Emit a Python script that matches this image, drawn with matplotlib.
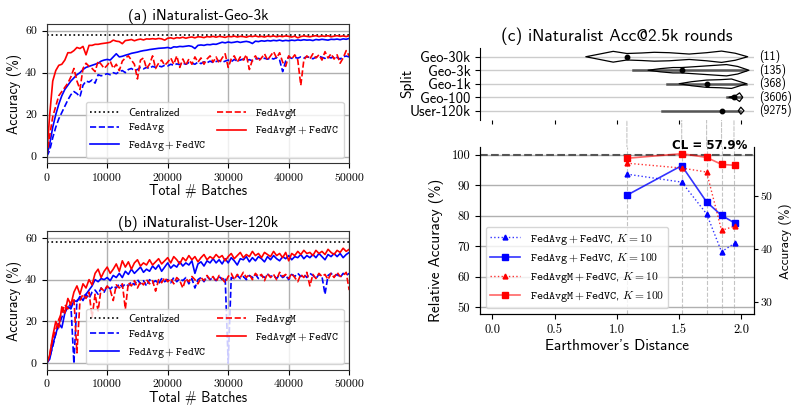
import numpy as np
import matplotlib
matplotlib.use("Agg")
import matplotlib.pyplot as plt
from matplotlib.patches import ConnectionPatch
from matplotlib.transforms import blended_transform_factory

plt.rcParams['font.family'] = ['cmss10', 'DejaVu Sans']
plt.rcParams['mathtext.fontset'] = 'cm'
plt.rcParams['axes.formatter.use_mathtext'] = True
plt.rcParams['axes.unicode_minus'] = False

# ---- data ----
CENTRALIZED = 57.9
batches = np.arange(0, 50001, 500)

# (a) iNaturalist-Geo-3k
geo3k_fedavg = [0, 3, 9, 14, 18, 21, 24, 27, 29.5, 31, 30, 28.5, 34, 36, 35.5, 36.5, 35, 39, 38.5, 39,
                39.5, 39, 40, 39.5, 40.5, 41, 40, 41.5, 42, 41, 41.5, 42.5, 41.8, 42.5, 42, 43, 42.5, 43.2, 42.8, 43.5,
                43.2, 44, 43.5, 44.2, 43.8, 44.5, 44, 44.8, 44.5, 44, 45, 44.3, 45.2, 44.7, 45.5, 44.8, 45.3, 45.8, 44.9, 45.5,
                46, 45.2, 46.3, 45.5, 46, 46.5, 45.8, 46.2, 45.6, 46.5, 46.8, 46.2, 46.9, 46.4, 47, 46.5, 47.2, 46, 40.5, 45.5,
                47.5, 46.8, 47.3, 46.9, 47.5, 47, 47.6, 47.2, 46.6, 47.4, 47.8, 47.3, 46.8, 47.5, 47, 47.7, 47.2, 46.5, 47.6, 47.9,
                47.5]
geo3k_fedavg_vc = [0, 6, 14, 20, 25, 29, 32, 34, 36, 37.5, 39, 40, 41.5, 42.5, 43, 43.5, 44, 44.5, 45.5, 46,
                   46.3, 46, 47.5, 49, 47.5, 47.8, 48.3, 48.7, 49.2, 49.5, 49.8, 50.2, 50.5, 50.7, 51, 51.2, 51.4, 51.6, 51.7, 51.8,
                   52, 51.6, 52.3, 52.2, 52.5, 52.4, 52.6, 52.8, 52.5, 51.5, 53, 53.2, 53, 53.4, 53.3, 53.6, 53.5, 54, 54.5, 54.2,
                   54.6, 54.3, 54.5, 54.8, 54.4, 54.7, 54.9, 54.6, 53.9, 55, 54.8, 55.2, 55, 55.3, 55.1, 55.4, 55.2, 55.5, 55.1, 55.4,
                   55.2, 55.5, 55.3, 55.6, 55.4, 55.7, 55.5, 55.6, 55.3, 55.8, 55.6, 55.9, 55.7, 55.5, 55.9, 55.8, 56, 55.7, 56.1, 55.9,
                   56.3]
geo3k_fedavgm = [0, 10, 19, 24, 29, 31, 33, 35, 38, 42, 36, 32, 42, 44.5, 43, 42, 40.5, 45.5, 44, 42,
                 43.5, 45.5, 42, 44, 41, 45.5, 47, 48, 46, 44, 37, 46, 47, 42, 44, 48, 42, 44.5, 46, 43.5,
                 45, 47, 44, 48, 42.5, 46.5, 43.5, 46.5, 44, 47.5, 45, 47, 44, 46.5, 48, 45, 47.5, 44.5, 47, 49,
                 42.5, 46.5, 48, 45, 47.5, 46, 48.5, 41.5, 46, 48, 45.5, 47, 49, 46, 48, 50, 47, 49.5, 45, 43,
                 48, 46.5, 48.5, 46, 34, 46, 48, 46.5, 49, 47, 48.5, 46, 50, 47, 49, 46.5, 48.5, 44.5, 47, 50.5,
                 48]
geo3k_fedavgm_vc = [0, 20, 36, 41, 43.5, 44, 46, 49.5, 49.5, 50.5, 52, 51.5, 52.5, 48.5, 53, 53, 53.5, 53.5, 53.8, 54,
                    54.2, 54.5, 55.5, 55, 54.8, 53.8, 55.3, 55.5, 55.8, 55.2, 55.7, 56, 55.6, 56.1, 56, 56.2, 56, 56.3, 56.1, 55.5,
                    56.4, 56.6, 56.2, 56.7, 56.5, 56.9, 56.4, 56.8, 57, 56.6, 57.1, 57, 56.7, 57.2, 57, 57.3, 56.9, 57.3, 57.1, 56.8,
                    57.3, 57.1, 57.4, 57, 57.3, 57.2, 56.9, 57.4, 57.2, 57.5, 57.1, 57.3, 57, 57.4, 57.2, 57.5, 57.1, 57.4, 57.2, 57.5,
                    57.3, 57, 57.4, 56.6, 57.2, 57.5, 57.3, 57.1, 57.4, 57.6, 57.2, 57.5, 57.3, 57.6, 57.1, 57.4, 57.6, 57.3, 57.5, 57.2,
                    57.6]

# (b) iNaturalist-User-120k
user120k_fedavg = [0, 3, 8, 14, 18, 22, 25, 27, 28, 0, 30, 31, 32, 33, 31, 34, 35, 33, 36, 34,
                   37, 35.5, 37, 36, 38, 36.5, 38, 37, 39, 37.5, 40, 38, 39.5, 37, 40, 38.5, 39.5, 38, 40.5, 39,
                   40, 38.5, 41, 39, 40.5, 39.5, 41, 38, 40.5, 36, 40, 41, 39, 41.5, 40, 41, 39.5, 41.5, 40, 41,
                   0, 41, 40.5, 42, 40.5, 41.5, 40, 42, 41, 42.5, 40.5, 42, 41, 42.5, 41.5, 42, 40.5, 42.5, 41, 42,
                   40, 42.5, 41.5, 43, 41.5, 42.5, 41, 43, 42, 40.5, 42.5, 41.5, 33, 42, 43, 41.5, 42.5, 41, 43, 42,
                   43]
user120k_fedavg_vc = [0, 2, 9, 14, 19, 17, 24, 27, 26, 30, 29.5, 32, 30, 33, 35, 37, 40, 39, 40.5, 40,
                      41, 39.5, 42, 41, 43, 41, 44, 42.5, 45, 43, 44.5, 46, 43.5, 45, 44, 46.5, 45, 47, 44, 46,
                      48, 45.5, 47, 46, 48.5, 46.5, 48, 47, 49, 43, 47.5, 48.5, 46.5, 49, 48, 50, 48, 49.5, 47.5, 50,
                      48, 50.5, 49, 47, 50, 49.5, 51, 48.5, 50.5, 49, 51, 50, 48.5, 51, 49.5, 51.5, 50, 49, 51, 50,
                      51.5, 49.5, 51, 50.5, 52, 50, 51.5, 50.5, 52, 50.5, 52.5, 51, 49.5, 52, 51, 52.5, 51, 52.5, 50.5, 52,
                      53]
user120k_fedavgm = [0, 4, 12, 16, 21, 24, 28, 26, 29, 31, 5, 30, 33, 31, 34, 22, 33, 25, 36, 34.5,
                    37, 35, 30, 37.5, 36, 38, 26, 38.5, 37, 39.5, 36, 39, 37.5, 40, 38, 39.5, 34.5, 40, 38.5, 41,
                    39, 40.5, 38, 41, 39.5, 36, 40.5, 39, 41.5, 40, 38, 41, 39.5, 42, 40, 41.5, 39, 42, 40.5, 38.5,
                    41.5, 43, 40, 42.5, 41, 43.5, 41, 42.5, 40, 43, 41.5, 42.5, 39.5, 43, 41, 42.5, 40, 43.5, 41.5, 42.5,
                    40.5, 43, 41, 39, 42.5, 41, 43.5, 37, 42.5, 40.5, 43, 41.5, 42.5, 40, 43, 41, 43.5, 41.5, 42, 43.5,
                    35]
user120k_fedavgm_vc = [0, 4, 13, 20, 17, 27, 24, 31, 28, 34, 37, 33, 38, 36, 40, 37.5, 43, 45, 41, 44,
                       46, 43, 45, 47.5, 44, 49, 46, 48.5, 45, 48, 49.5, 46.5, 48, 47, 49.5, 47, 48.5, 50, 47.5, 49,
                       50.5, 48, 51, 49.5, 47.5, 50.5, 49, 51.5, 49.5, 51, 48.5, 50.5, 52, 49.5, 51, 50, 52, 50.5, 51.5, 49,
                       51, 52.5, 50, 51.5, 53, 50.5, 52, 51, 53.5, 51.5, 52.5, 50.5, 53, 52, 51, 53.5, 51.5, 52.5, 50.5, 53,
                       49, 52.5, 51.5, 53.5, 52, 54, 52.5, 53, 51.5, 54, 52.5, 53.5, 52, 54.5, 53, 52, 54, 53, 55, 53.5,
                       54.5]

# (c) violins of client EMD per split
splits = ['Geo-30k', 'Geo-3k', 'Geo-1k', 'Geo-100', 'User-120k']
split_counts = [11, 135, 368, 3606, 9275]
split_median_emd = [1.08, 1.52, 1.72, 1.94, 1.84]
split_range_lo = [None, 1.13, 1.40, 1.88, 1.36]
split_range_hi = [None, 2.03, 2.04, 2.00, 1.985]
violin_emd = [
    [0.75, 0.85, 0.97, 1.08, 1.20, 1.30, 1.42, 1.58, 1.72, 1.84, 1.95, 2.05],
    [1.25, 1.35, 1.45, 1.52, 1.62, 1.75, 1.88, 1.97, 2.06],
    [1.50, 1.60, 1.72, 1.83, 1.92, 2.04],
    [1.90, 1.96, 1.985, 2.01],
    [1.975, 1.995, 2.02],
]
violin_half = [
    [0, 0.18, 0.40, 0.24, 0.28, 0.33, 0.30, 0.20, 0.30, 0.42, 0.26, 0],
    [0, 0.12, 0.20, 0.20, 0.26, 0.34, 0.42, 0.28, 0],
    [0, 0.15, 0.27, 0.30, 0.35, 0],
    [0, 0.15, 0.32, 0],
    [0, 0.26, 0],
]

# (c) relative accuracy vs EMD (points ordered by EMD)
emd = [1.08, 1.52, 1.72, 1.84, 1.95]
fedavg_vc_k10 = [93.6, 91.0, 80.6, 68.2, 71.1]
fedavg_vc_k100 = [86.7, 96.4, 84.5, 80.1, 77.5]
fedavgm_vc_k10 = [97.2, 95.6, 94.3, 75.2, 76.6]
fedavgm_vc_k100 = [98.8, 100.3, 99.1, 96.8, 96.5]

TT = r'$\mathtt{FedAvg}$'
TTM = r'$\mathtt{FedAvgM}$'
TTVC = r'$\mathtt{FedAvg}+\mathtt{FedVC}$'
TTMVC = r'$\mathtt{FedAvgM}+\mathtt{FedVC}$'

fig = plt.figure(figsize=(7.94, 4.05), dpi=100)
ax_a = fig.add_axes([0.0588, 0.5968, 0.381, 0.344])
ax_b = fig.add_axes([0.0588, 0.0864, 0.381, 0.343])
ax_v = fig.add_axes([0.6045, 0.7037, 0.345, 0.1785])
ax_c = fig.add_axes([0.6045, 0.2247, 0.345, 0.4116])


def curve_panel(ax, title, fa, fa_vc, fam, fam_vc):
    ax.axhline(CENTRALIZED, color='black', ls=':', lw=1.2, label='Centralized')
    ax.plot(batches, fa, color='blue', ls='--', lw=1.2, label=TT)
    ax.plot(batches, fa_vc, color='blue', lw=1.2, label=TTVC)
    ax.plot(batches, fam, color='red', ls='--', lw=1.2, label=TTM)
    ax.plot(batches, fam_vc, color='red', lw=1.2, label=TTMVC)
    ax.set_xlim(0, 50000)
    ax.set_ylim(-3.2, 63.2)
    ax.set_xticks([0, 10000, 20000, 30000, 40000, 50000])
    ax.set_xticklabels(['0', '10000', '20000', '30000', '40000', '50000'])
    ax.set_yticks([0, 20, 40, 60])
    ax.set_yticklabels(['0', '20', '40', '60'])
    ax.tick_params(labelsize=8.5, labelfontfamily='cmr10')
    ax.grid(True, color='#b0b0b0', lw=1)
    ax.set_axisbelow(True)
    for s in ax.spines.values():
        s.set_color('#333333')
    ax.set_title(title, fontsize=11, pad=3)
    ax.set_xlabel('Total # Batches', fontsize=10, labelpad=1)
    ax.set_ylabel('Accuracy (%)', fontsize=10, labelpad=2)
    ax.legend(loc='lower right', ncol=2, fontsize=8, columnspacing=1.0,
              handlelength=2.6, labelspacing=0.35)


curve_panel(ax_a, '(a) iNaturalist-Geo-3k', geo3k_fedavg, geo3k_fedavg_vc,
            geo3k_fedavgm, geo3k_fedavgm_vc)
curve_panel(ax_b, '(b) iNaturalist-User-120k', user120k_fedavg, user120k_fedavg_vc,
            user120k_fedavgm, user120k_fedavgm_vc)

# violins
trans = blended_transform_factory(ax_v.transAxes, ax_v.transData)
for i, name in enumerate(splits):
    ax_v.axhline(i, color='#cccccc', lw=1, zorder=0)
    if split_range_lo[i] is not None:
        ax_v.plot([split_range_lo[i], split_range_hi[i]], [i, i], color='#555555', lw=1.8, zorder=1)
    v = np.array(violin_half[i])
    ax_v.fill_between(violin_emd[i], i - v, i + v, facecolor='none', edgecolor='black', lw=0.9, zorder=2)
    ax_v.plot(split_median_emd[i], i, 'o', color='black', ms=3.2, zorder=3)
    ax_v.text(1.02, i, '(%d)' % split_counts[i], transform=trans, va='center', ha='left', fontsize=8.5)
    con = ConnectionPatch(xyA=(split_median_emd[i], i), coordsA=ax_v.transData,
                          xyB=(split_median_emd[i], 102.4), coordsB=ax_c.transData,
                          color='#c4c4c4', ls='--', lw=0.8, zorder=0)
    fig.add_artist(con)
    ax_c.axvline(split_median_emd[i], color='#c4c4c4', ls='--', lw=0.8, zorder=0)

ax_v.set_xlim(-0.1, 2.1)
ax_v.set_ylim(4.69, -0.67)
ax_v.set_yticks(range(len(splits)))
ax_v.set_yticklabels(splits, fontsize=10.5)
ax_v.set_xticks([0, 0.5, 1.0, 1.5, 2.0])
ax_v.set_xticklabels([])
ax_v.tick_params(axis='x', length=3)
for s in ['top', 'right', 'bottom']:
    ax_v.spines[s].set_visible(False)
ax_v.set_ylabel('Split', fontsize=11)
ax_v.yaxis.set_label_coords(-0.24, 0.51)
ax_v.set_title('(c) iNaturalist Acc@2.5k rounds', fontsize=12.5, pad=5)

# relative accuracy
ax_c.axhline(100, color='#555555', ls='--', lw=1.5, zorder=1)
ax_c.plot(emd, fedavg_vc_k10, ls=':', lw=1, marker='^', ms=3.5, color=(0, 0, 1, 0.8),
          mfc='blue', mec='blue', label=TTVC + r', $K=10$')
ax_c.plot(emd, fedavg_vc_k100, ls='-', lw=1.2, marker='s', ms=5, color=(0, 0, 1, 0.8),
          mfc='blue', mec='blue', label=TTVC + r', $K=100$')
ax_c.plot(emd, fedavgm_vc_k10, ls=':', lw=1, marker='^', ms=3.5, color=(1, 0, 0, 0.8),
          mfc='red', mec='red', label=TTMVC + r', $K=10$')
ax_c.plot(emd, fedavgm_vc_k100, ls='-', lw=1.2, marker='s', ms=5, color=(1, 0, 0, 0.6),
          mfc='red', mec='red', label=TTMVC + r', $K=100$')
ax_c.set_xlim(-0.1, 2.1)
ax_c.set_ylim(47.8, 102.4)
ax_c.set_yticks([50, 60, 70, 80, 90, 100])
ax_c.set_yticklabels(['50', '60', '70', '80', '90', '100'])
ax_c.set_xticks([0, 0.5, 1.0, 1.5, 2.0])
ax_c.set_xticklabels(['0.0', '0.5', '1.0', '1.5', '2.0'])
ax_c.tick_params(labelsize=9, labelfontfamily='cmr10')
ax_c.grid(axis='y', color='#b0b0b0', lw=1)
ax_c.set_axisbelow(True)
ax_c.spines['top'].set_visible(False)
ax_c.set_xlabel("Earthmover's Distance", fontsize=11, labelpad=2)
ax_c.set_ylabel('Relative Accuracy (%)', fontsize=11)
ax_c.yaxis.set_label_coords(-0.13, 0.384)
ax_c.text(2.05, 101.0, 'CL = 57.9%', ha='right', va='bottom', fontsize=8.5,
          fontweight='bold', family=['DejaVu Sans'])
ax_c.legend(loc='lower left', fontsize=8.3, labelspacing=0.35, handlelength=2.6)

tw = ax_c.twinx()
tw.set_ylim(47.8 * CENTRALIZED / 100, 102.4 * CENTRALIZED / 100)
tw.set_yticks([30, 40, 50])
tw.set_yticklabels(['30', '40', '50'])
tw.tick_params(labelsize=8.5, labelfontfamily='cmr10', pad=1.5, length=3)
tw.spines['top'].set_visible(False)
tw.set_ylabel('Accuracy (%)', fontsize=9.5)
tw.yaxis.set_label_coords(1.09, 0.438)

fig.savefig('out.png', dpi=100)
